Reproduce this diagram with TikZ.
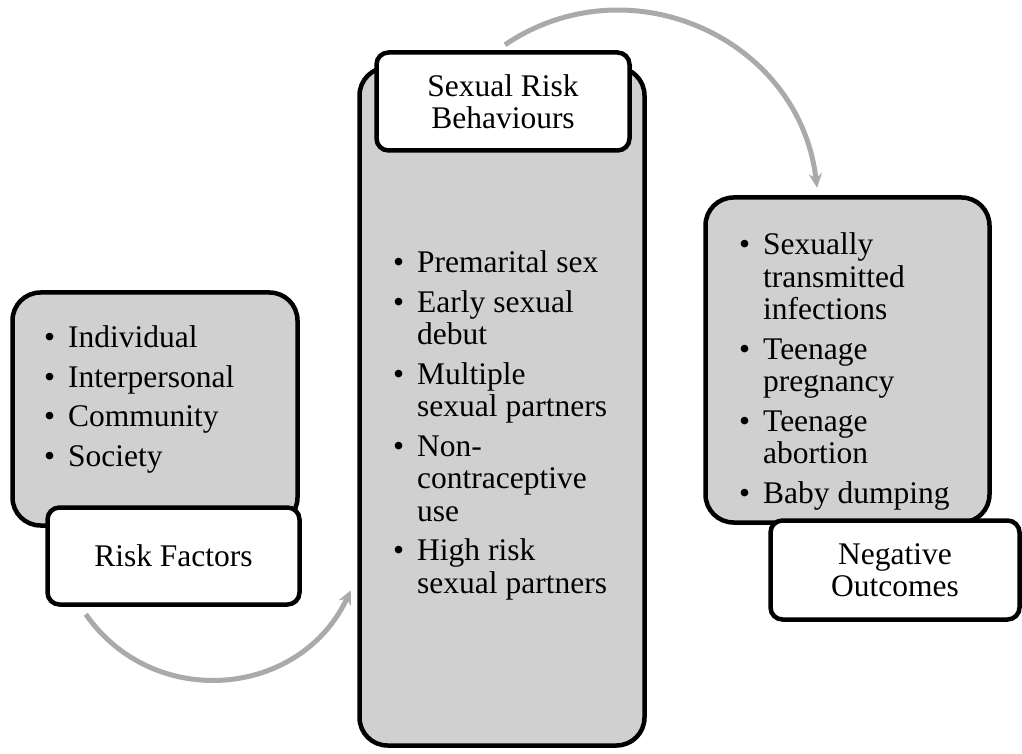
\documentclass[tikz,border=0pt]{standalone}
\usepackage{fontspec}
\setmainfont{Liberation Serif}
\usetikzlibrary{arrows.meta}
\definecolor{boxgray}{RGB}{208,208,208}
\definecolor{flowgray}{RGB}{170,170,170}
\newcommand{\itm}{\textbullet}

\begin{document}
\begin{tikzpicture}[x=1pt,y=1pt,
    font=\fontsize{31.5}{32.5}\selectfont,
    graybox/.style={draw=black, fill=boxgray, line width=4.5pt, rounded corners=28pt, inner sep=0pt},
    labelbox/.style={draw=black, fill=white, line width=4.5pt, rounded corners=12pt, inner sep=0pt, align=center},
    listtext/.style={inner sep=0pt, anchor=base west},
    flow/.style={draw=flowgray, line width=5pt, -{Stealth[length=14pt,width=13pt]}}]
    \useasboundingbox (0,0) rectangle (1022,753);

    % Grey boxes
    \node[graybox, minimum width=285pt, minimum height=233pt] (rfbox) at (155,344) {};
    \node[graybox, minimum width=285pt, minimum height=678pt] (srbbox) at (502,346.5) {};
    \node[graybox, minimum width=284pt, minimum height=325pt] (nobox) at (847.5,393) {};

    % Titles
    \node[labelbox, minimum width=252pt, minimum height=97pt] (rflabel) at (173.5,197) {Risk Factors};
    \node[labelbox, minimum width=253pt, minimum height=98pt] (srblabel) at (503,651.5) {Sexual Risk\\Behaviours};
    \node[labelbox, minimum width=249pt, minimum height=99pt] (nolabel) at (895,183) {Negative\\Outcomes};

    % Lists
    \node[listtext] (rflist) at (44,405) {\begin{tabular}[t]{@{}p{24pt}@{}l@{}}
        \itm & Individual\\[7pt]
        \itm & Interpersonal\\[7pt]
        \itm & Community\\[7pt]
        \itm & Society
      \end{tabular}};
    \node[listtext] (srblist) at (393,480) {\begin{tabular}[t]{@{}p{24pt}@{}l@{}}
        \itm & Premarital sex\\[7pt]
        \itm & Early sexual\\
             & debut\\[7pt]
        \itm & Multiple\\
             & sexual partners\\[7pt]
        \itm & Non-\\
             & contraceptive\\
             & use\\[7pt]
        \itm & High risk\\
             & sexual partners
      \end{tabular}};
    \node[listtext] (nolist) at (739,498) {\begin{tabular}[t]{@{}p{24pt}@{}l@{}}
        \itm & Sexually\\
             & transmitted\\
             & infections\\[7pt]
        \itm & Teenage\\
             & pregnancy\\[7pt]
        \itm & Teenage\\
             & abortion\\[7pt]
        \itm & Baby dumping
      \end{tabular}};

    % Curved arrows
    \draw[flow] ([shift={(40.5,-7.5)}]rflabel.south west) to[out=-55, in=245, looseness=1.14] ([shift={(-6.5,157.5)}]srbbox.south west);
    \draw[flow] ([shift={(2,5.5)}]srblabel.north) to[out=34, in=96.6, looseness=1.12] ([shift={(-30.5,7.5)}]nobox.north);
  \end{tikzpicture}
\end{document}
